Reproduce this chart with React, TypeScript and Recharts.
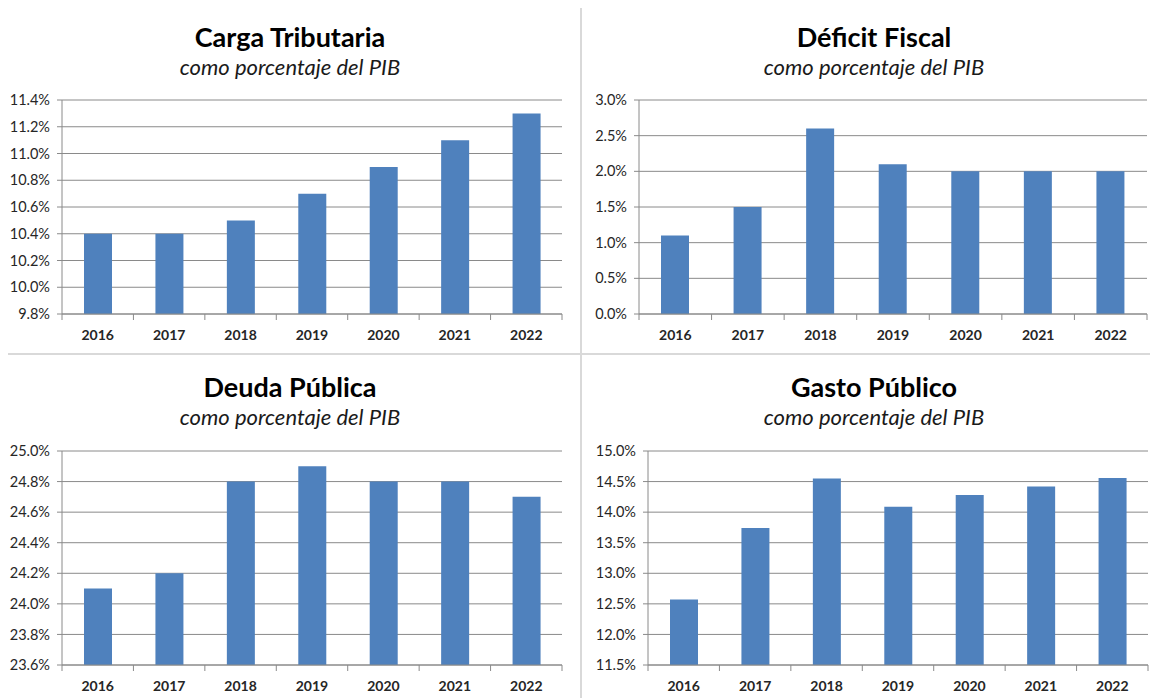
import React from 'react';
import { BarChart, Bar, XAxis, YAxis, CartesianGrid } from 'recharts';

const years = ['2016', '2017', '2018', '2019', '2020', '2021', '2022'];

const cargaValues = [10.4, 10.4, 10.5, 10.7, 10.9, 11.1, 11.3];
const cargaTicks = [9.8, 10.0, 10.2, 10.4, 10.6, 10.8, 11.0, 11.2, 11.4];

const deficitValues = [1.1, 1.5, 2.6, 2.1, 2.0, 2.0, 2.0];
const deficitTicks = [0, 0.5, 1.0, 1.5, 2.0, 2.5, 3.0];

const deudaValues = [24.1, 24.2, 24.8, 24.9, 24.8, 24.8, 24.7];
const deudaTicks = [23.6, 23.8, 24.0, 24.2, 24.4, 24.6, 24.8, 25.0];

const gastoValues = [12.57, 13.74, 14.55, 14.09, 14.28, 14.42, 14.56];
const gastoTicks = [11.5, 12.0, 12.5, 13.0, 13.5, 14.0, 14.5, 15.0];

const SUBTITLE = 'como porcentaje del PIB';

const FONT = 'Lato, "Open Sans", sans-serif';
const BAR = '#4f81bd';
const GRID = '#8a8a8a';
const TEXT = '#262626';

const toRows = (vals: number[]) => years.map((year, i) => ({ year, value: vals[i] }));

// year labels with the little boundary ticks Excel puts between categories
const YearTick = (props: any) => {
    const { x, y, payload, index, visibleTicksCount } = props;
    const half = payload && payload.offset ? payload.offset : 36;
    const last = index === visibleTicksCount - 1;
    return (
        <g>
            <line x1={x - half} x2={x - half} y1={y} y2={y + 6} stroke={GRID} />
            {last && <line x1={x + half} x2={x + half} y1={y} y2={y + 6} stroke={GRID} />}
            <text x={x} y={y + 26} textAnchor="middle" fill={TEXT} fontSize={14} fontWeight={700} fontFamily={FONT}>
                {payload.value}
            </text>
        </g>
    );
};

type PanelProps = {
    title: string;
    values: number[];
    ticks: number[];
    left: number;
    top: number;
    width: number;
    height: number;
    axisX: number;
    plotRight: number;
    plotTop: number;
    plotBottom: number;
    titleX: number;
    titleY: number;
};

const Panel: React.FC<PanelProps> = (p) => {
    const data = toRows(p.values);
    return (
        <>
            <div style={{ position: 'absolute', left: p.titleX - 200, top: p.titleY, width: 400, textAlign: 'center', fontFamily: FONT, color: '#000' }}>
                <div style={{ fontSize: 27, fontWeight: 700, lineHeight: '32px' }}>{p.title}</div>
                <div style={{ fontSize: 22, fontStyle: 'italic', lineHeight: '28px', color: '#1a1a1a' }}>{SUBTITLE}</div>
            </div>
            <div style={{ position: 'absolute', left: p.left, top: p.top }}>
                <BarChart
                    width={p.width}
                    height={p.height}
                    data={data}
                    barCategoryGap="30%"
                    margin={{ top: p.plotTop - p.top, right: p.left + p.width - p.plotRight, left: 0, bottom: 0 }}
                >
                    <CartesianGrid vertical={false} stroke={GRID} />
                    <XAxis
                        dataKey="year"
                        height={p.top + p.height - p.plotBottom}
                        tickSize={0}
                        tickMargin={0}
                        tickLine={false}
                        axisLine={{ stroke: GRID }}
                        tick={<YearTick />}
                        interval={0}
                    />
                    <YAxis
                        width={p.axisX - p.left}
                        domain={[p.ticks[0], p.ticks[p.ticks.length - 1]]}
                        ticks={p.ticks}
                        interval={0}
                        tickSize={5}
                        tickMargin={7}
                        axisLine={{ stroke: GRID }}
                        tickLine={{ stroke: GRID }}
                        tickFormatter={(v: number) => `${v.toFixed(1)}%`}
                        tick={{ fill: TEXT, fontSize: 14.5, fontFamily: FONT }}
                    />
                    <Bar dataKey="value" fill={BAR} barSize={28} isAnimationActive={false} />
                </BarChart>
            </div>
        </>
    );
};

export default function App() {
    return (
        <div style={{ position: 'absolute', left: 0, top: 0, width: 1150, height: 698, background: '#fff', overflow: 'hidden' }}>
            <div style={{ position: 'absolute', left: 580, top: 8, width: 2, height: 690, background: '#d9d9d9' }} />
            <div style={{ position: 'absolute', left: 8, top: 353, width: 1142, height: 2, background: '#d9d9d9' }} />

            <Panel title="Carga Tributaria" values={cargaValues} ticks={cargaTicks}
                left={0} top={90} width={580} height={260}
                axisX={62} plotRight={562} plotTop={100} plotBottom={314}
                titleX={290} titleY={21} />
            <Panel title="Déficit Fiscal" values={deficitValues} ticks={deficitTicks}
                left={582} top={90} width={568} height={260}
                axisX={639} plotRight={1147} plotTop={100} plotBottom={314}
                titleX={874} titleY={21} />
            <Panel title="Deuda Pública" values={deudaValues} ticks={deudaTicks}
                left={0} top={441} width={580} height={257}
                axisX={62} plotRight={562} plotTop={451} plotBottom={665}
                titleX={290} titleY={371} />
            <Panel title="Gasto Público" values={gastoValues} ticks={gastoTicks}
                left={582} top={441} width={568} height={257}
                axisX={648} plotRight={1148} plotTop={451} plotBottom={665}
                titleX={874} titleY={371} />
        </div>
    );
}
